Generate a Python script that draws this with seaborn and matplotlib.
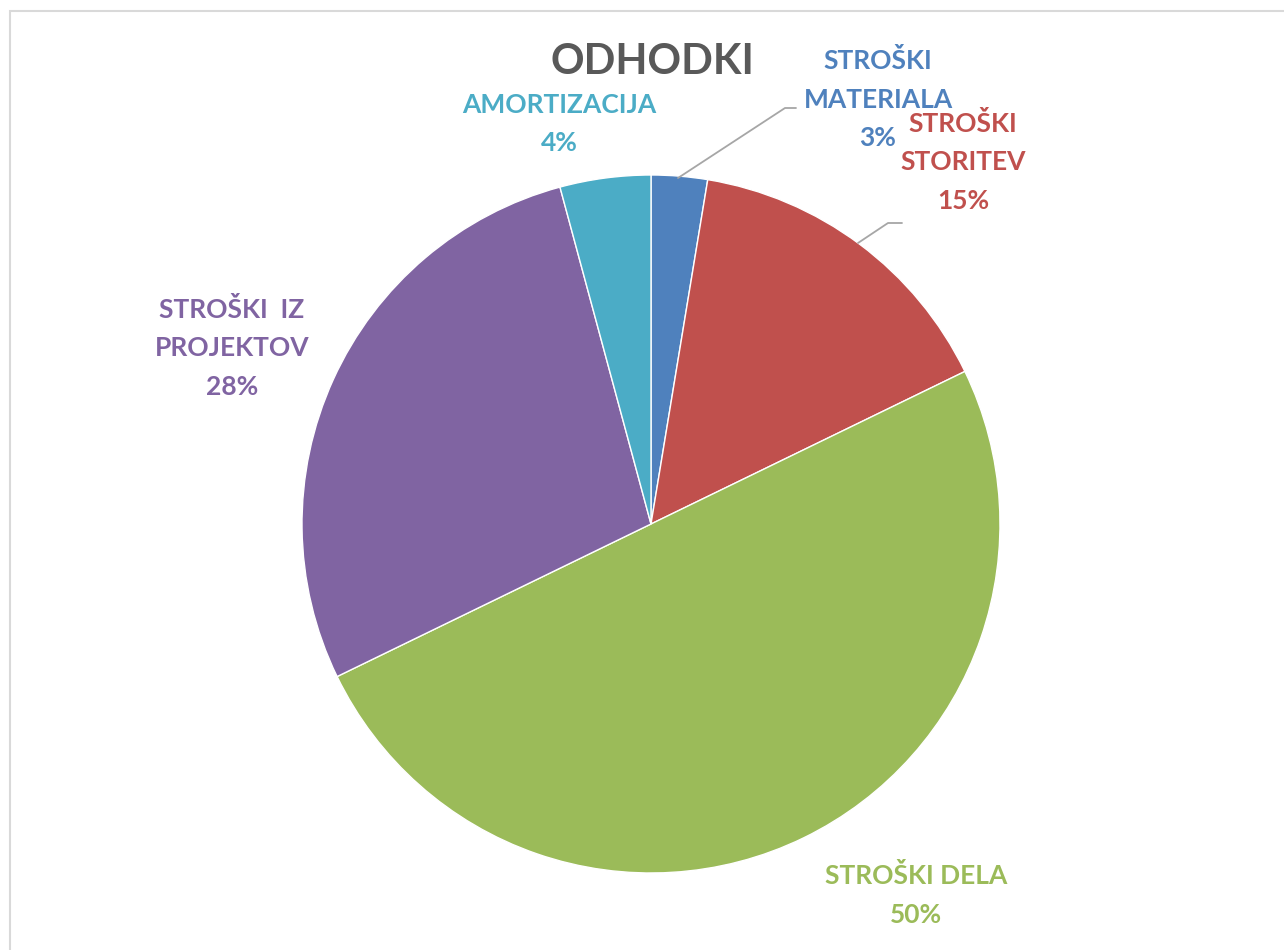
import matplotlib
matplotlib.use("Agg")
import matplotlib.pyplot as plt
import seaborn as sns
from matplotlib.patches import Rectangle

# data
categories = ["STROŠKI\nMATERIALA", "STROŠKI\nSTORITEV", "STROŠKI DELA", "STROŠKI  IZ\nPROJEKTOV", "AMORTIZACIJA"]
values = [2.6, 15.2, 50.0, 28.0, 4.2]
colors = ["#4F81BD", "#C0504D", "#9BBB59", "#8064A2", "#4BACC6"]
title = "ODHODKI"

sns.set_theme(style="white")
plt.rcParams["font.family"] = ["Lato", "DejaVu Sans"]

W, H = 1284, 950
fig = plt.figure(figsize=(W / 100, H / 100), dpi=100)
fig.patch.set_facecolor("white")

# pie placement in pixels
cx, cy, r = 651, 524, 349
ax = fig.add_axes([(cx - r) / W, (H - cy - r) / H, 2 * r / W, 2 * r / H])
ax.pie(values, colors=colors, startangle=90, counterclock=False, radius=1,
       wedgeprops=dict(edgecolor="white", linewidth=1.0))
ax.set_xlim(-1, 1)
ax.set_ylim(-1, 1)
ax.set_aspect("equal")
ax.axis("off")

def px(x, y):
    return x / W, 1 - y / H

# chart border (cropped on right and bottom)
fig.patches.append(Rectangle(px(9.5, 1000), 1400 / W, (1000 - 11) / H,
                             transform=fig.transFigure, fill=False,
                             edgecolor="#D9D9D9", linewidth=1.5))

fig.text(*px(652, 62), title, ha="center", va="center", fontsize=30,
         fontweight="bold", color="#595959")

# label centres (pixels)
label_pos = [(878, 99), (963, 162), (916, 895), (232, 348), (559, 124)]
for cat, v, c, (lx, ly) in zip(categories, values, colors, label_pos):
    fig.text(*px(lx, ly), f"{cat}\n{round(v)}%", ha="center", va="center",
             fontsize=19, fontweight="bold", color=c, linespacing=1.72)

# leader lines
for pts in [[(678, 178), (785, 108), (796, 108)],
            [(858, 243), (888, 223), (902, 223)]]:
    xs = [p[0] / W for p in pts]
    ys = [1 - p[1] / H for p in pts]
    fig.add_artist(plt.Line2D(xs, ys, transform=fig.transFigure,
                              color="#A6A6A6", linewidth=1.3))

fig.savefig("out.png", dpi=100)
